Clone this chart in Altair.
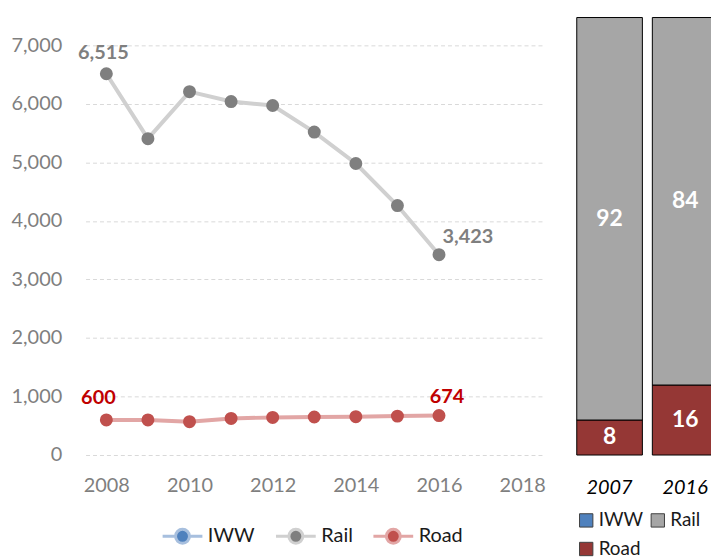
import altair as alt
import pandas as pd

# ---- data ----
years = [2008, 2009, 2010, 2011, 2012, 2013, 2014, 2015, 2016]
rail = [6515, 5406, 6209, 6040, 5972, 5519, 4981, 4263, 3423]
road = [600, 600, 570, 625, 643, 650, 655, 665, 674]
modes = ["IWW", "Rail", "Road"]
point_colors = ["#4F81BD", "#7F7F7F", "#C0504D"]
line_colors = ["#A7BFDE", "#D0D0D0", "#E2A6A5"]
x_ticks = [2008, 2010, 2012, 2014, 2016, 2018]
y_ticks = [0, 1000, 2000, 3000, 4000, 5000, 6000, 7000]

bar_years = ["2007", "2016"]
bar_rail = [92, 84]
bar_road = [8, 16]
bar_colors = ["#4F81BD", "#A6A6A6", "#953735"]

FONT = "Lato"

rows = []
for yr, r, d in zip(years, rail, road):
    rows.append({"year": yr, "mode": "Rail", "value": r})
    rows.append({"year": yr, "mode": "Road", "value": d})
df = pd.DataFrame(rows)

brows = []
for yr, r, d in zip(bar_years, bar_rail, bar_road):
    brows.append({"year": yr, "mode": "Road", "pct": d})
    brows.append({"year": yr, "mode": "Rail", "pct": r})
bdf = pd.DataFrame(brows)

# ---- line chart ----
W, H = 460, 440
xs = alt.Scale(domain=[2007.5, 2018.5], nice=False, zero=False)
ys = alt.Scale(domain=[0, 7476], nice=False)

base = alt.Chart(df)
X = alt.X("year:Q", scale=xs,
          axis=alt.Axis(values=x_ticks, format="d", title=None, grid=False,
                        domain=False, ticks=False, tickSize=0, labelPadding=21,
                        labelColor="#7F7F7F", labelFont=FONT, labelFontSize=20))
Y = alt.Y("value:Q", scale=ys,
          axis=alt.Axis(values=y_ticks, format=",.0f", title=None, grid=True,
                        gridColor="#D9D9D9", gridDash=[4, 3], gridWidth=1,
                        domain=False, ticks=False, tickSize=0, labelPadding=24,
                        labelColor="#7F7F7F", labelFont=FONT, labelFontSize=20))

stroke_scale = alt.Scale(domain=modes, range=line_colors)
fill_scale = alt.Scale(domain=modes, range=point_colors)

legend = alt.Legend(
    orient="none", legendX=76, legendY=500, direction="horizontal", title=None,
    symbolType="M-1,0L-0.35,0M0.35,0L1,0M-0.35,0A0.35,0.35 0 1,0 0.35,0A0.35,0.35 0 1,0 -0.35,0Z",
    symbolSize=1600, symbolStrokeWidth=3, symbolOpacity=1,
    labelFont=FONT, labelFontSize=20, labelColor="#1a1a1a", labelOffset=4,
    columnPadding=14)

lines = base.mark_line(strokeWidth=4).encode(
    x=X, y=Y,
    stroke=alt.Stroke("mode:N", scale=stroke_scale, legend=legend),
)
points = base.mark_point(filled=True, shape="circle", size=170, opacity=1,
                         strokeWidth=0, fillOpacity=1).encode(
    x=X, y=Y,
    fill=alt.Fill("mode:N", scale=fill_scale, legend=legend),
    stroke=alt.Stroke("mode:N", scale=stroke_scale, legend=legend),
)

def lab(year, mode, color, dx, dy):
    return base.transform_filter(
        (alt.datum.year == year) & (alt.datum.mode == mode)
    ).mark_text(font=FONT, fontSize=20, fontWeight="bold", color=color,
                dx=dx, dy=dy).encode(
        x=alt.X("year:Q", scale=xs), y=alt.Y("value:Q", scale=ys),
        text=alt.Text("value:Q", format=","))

labels = (lab(2008, "Rail", "#7F7F7F", -3, -21) + lab(2016, "Rail", "#7F7F7F", 29, -18)
          + lab(2008, "Road", "#C00000", -8, -22) + lab(2016, "Road", "#C00000", 8, -19))

left = alt.layer(lines, points, labels).properties(width=W, height=H)

# ---- bar chart ----
bbase = alt.Chart(bdf)
BX = alt.X("year:N", sort=bar_years,
           scale=alt.Scale(paddingInner=10 / 76, paddingOuter=0),
           axis=alt.Axis(title=None, domain=False, ticks=False, tickSize=0,
                         labelPadding=23, labelAngle=0, labelFont=FONT,
                         labelFontSize=20, labelFontStyle="italic",
                         labelColor="#000000"))
bars = bbase.mark_bar(stroke="#000000", strokeWidth=1).encode(
    x=BX,
    y=alt.Y("pct:Q", stack="zero", scale=alt.Scale(domain=[0, 100], nice=False),
            axis=None),
    fill=alt.Fill("mode:N", scale=alt.Scale(domain=modes, range=bar_colors),
                  legend=alt.Legend(orient="none", legendX=0, legendY=496,
                                    direction="horizontal", columns=2, title=None,
                                    symbolType="square", symbolSize=180,
                                    symbolStrokeColor="#404040", symbolStrokeWidth=1,
                                    labelFont=FONT, labelFontSize=19,
                                    labelColor="#1a1a1a", labelOffset=3,
                                    columnPadding=5, rowPadding=9)),
    order=alt.Order("mode:N", sort="descending"),
)
btext = bbase.transform_stack(
    stack="pct", as_=["y0", "y1"], groupby=["year"],
    sort=[alt.SortField("mode", order="descending")]
).transform_calculate(mid="(datum.y0 + datum.y1) / 2").mark_text(
    font=FONT, fontSize=23, fontWeight="bold", color="white", baseline="middle"
).encode(
    x=BX,
    y=alt.Y("mid:Q", scale=alt.Scale(domain=[0, 100], nice=False), axis=None),
    text=alt.Text("pct:Q"),
)
right = alt.layer(bars, btext).properties(width=142, height=H)

chart = alt.hconcat(left, right, spacing=30).resolve_scale(
    fill="independent", stroke="independent", x="independent", y="independent"
).properties(
    padding={"left": 3, "top": 7, "right": -8, "bottom": 0}
).configure_view(stroke=None)

chart.save("out.html", embed_options={"renderer": "svg", "actions": False})
